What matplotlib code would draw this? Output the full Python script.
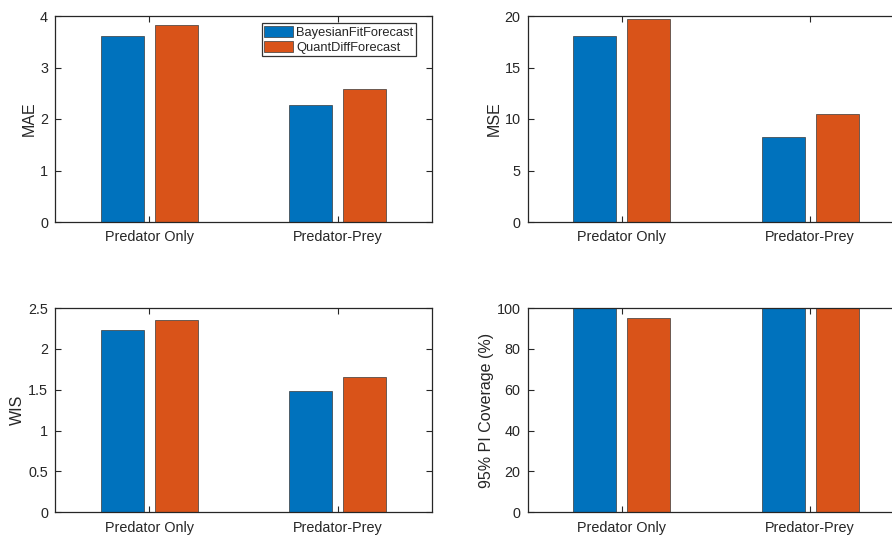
import numpy as np
import matplotlib
matplotlib.use('Agg')
import matplotlib.pyplot as plt

# data
categories = ['Predator Only', 'Predator-Prey']
series_names = ['BayesianFitForecast', 'QuantDiffForecast']
mae = [[3.61, 2.27], [3.83, 2.58]]
mse = [[18.05, 8.22], [19.67, 10.51]]
wis = [[2.23, 1.49], [2.35, 1.66]]
coverage = [[100, 100], [95, 100]]

ylabels = ['MAE', 'MSE', 'WIS', '95% PI Coverage (%)']
ylims = [(0, 4), (0, 20), (0, 2.5), (0, 100)]
yticks = [[0, 1, 2, 3, 4], [0, 5, 10, 15, 20],
          [0, 0.5, 1, 1.5, 2, 2.5], [0, 20, 40, 60, 80, 100]]
ytick_labels = [['0', '1', '2', '3', '4'], ['0', '5', '10', '15', '20'],
                ['0', '0.5', '1', '1.5', '2', '2.5'],
                ['0', '20', '40', '60', '80', '100']]

colors = ['#0072BD', '#D95319']
txt = '#262626'

plt.rcParams['font.family'] = ['Liberation Sans', 'DejaVu Sans']

fig = plt.figure(figsize=(8.92, 5.36), dpi=100)

W, H = 892, 536
# axes boxes in pixels: left, top, right, bottom (right column runs off the edge)
boxes = [(55, 16, 432, 222), (527.5, 16, 904.5, 222),
         (55, 308, 432, 512.3), (527.5, 308, 904.5, 512.3)]
metrics = [mae, mse, wis, coverage]

x = np.arange(1, len(categories) + 1)
bw = 0.2286
offs = [-0.1428, 0.1428]

for i, (l, t, r, b) in enumerate(boxes):
    ax = fig.add_axes([l / W, 1 - b / H, (r - l) / W, (b - t) / H])
    for j, vals in enumerate(metrics[i]):
        ax.bar(x + offs[j], vals, width=bw, color=colors[j],
               edgecolor='#3a3a3a', linewidth=0.5, label=series_names[j],
               zorder=2)
    ax.set_xlim(0.5, 2.5)
    ax.set_ylim(*ylims[i])
    ax.set_xticks(x)
    ax.set_xticklabels(categories)
    ax.set_yticks(yticks[i])
    ax.set_yticklabels(ytick_labels[i])
    ax.set_ylabel(ylabels[i], fontsize=11.5, color=txt, labelpad=2)
    ax.tick_params(direction='in', length=4, width=0.8, colors=txt,
                   labelsize=10.4, top=True, right=True, pad=5)
    ax.tick_params(axis='x', pad=6)
    for s in ax.spines.values():
        s.set_linewidth(0.9)
        s.set_color(txt)

    if i == 0:
        leg = ax.legend(loc='upper right', bbox_to_anchor=(0.957, 0.965),
                        borderaxespad=0, fontsize=9.3, frameon=True,
                        fancybox=False, handlelength=2.2, handleheight=0.95,
                        handletextpad=0.25, borderpad=0.2, labelspacing=0.15)
        leg.get_frame().set_edgecolor('#000000')
        leg.get_frame().set_linewidth(0.9)
        for tx in leg.get_texts():
            tx.set_color(txt)

fig.savefig('out.png', dpi=100)
